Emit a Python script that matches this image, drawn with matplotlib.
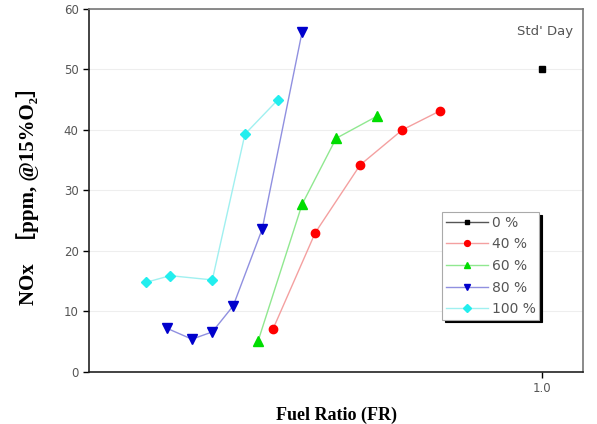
import matplotlib
matplotlib.use("Agg")
import matplotlib.pyplot as plt

# Data
x_0 = [1.0]
y_0 = [50.0]
x_40 = [0.406, 0.499, 0.598, 0.691, 0.773]
y_40 = [7.1, 23.0, 34.2, 40.0, 43.1]
x_60 = [0.373, 0.470, 0.545, 0.636]
y_60 = [5.1, 27.7, 38.6, 42.3]
x_80 = [0.172, 0.227, 0.272, 0.318, 0.382, 0.470]
y_80 = [7.2, 5.4, 6.6, 10.9, 23.6, 56.2]
x_100 = [0.126, 0.179, 0.272, 0.344, 0.417]
y_100 = [14.8, 15.9, 15.2, 39.3, 45.0]
labels = ["0 %", "40 %", "60 %", "80 %", "100 %"]
yticks = [0, 10, 20, 30, 40, 50, 60]
xticks = [1.0]

fig = plt.figure(figsize=(5.97, 4.24), dpi=100)
ax = fig.add_axes([0.149, 0.123, 0.828, 0.856])

series = [
    (x_0, y_0, "s", "black", "#555555", 4.5),
    (x_40, y_40, "o", "#ff0000", "#f4a0a0", 6),
    (x_60, y_60, "^", "#00dd00", "#90e890", 6.5),
    (x_80, y_80, "v", "#0000cc", "#9090e0", 7),
    (x_100, y_100, "D", "#22eeee", "#a0f0f0", 5.5),
]
for (xs, ys, m, mc, lc, ms), lab in zip(series, labels):
    ax.plot(xs, ys, color=lc, lw=1.0, marker=m, markersize=ms,
            markerfacecolor=mc, markeredgecolor=mc, label=lab)

ax.set_xlim(0.0, 1.09)
ax.set_ylim(0, 60)
ax.set_yticks(yticks)
ax.set_xticks(xticks)
ax.set_xticklabels(["1.0"])
ax.tick_params(axis="both", direction="out", labelsize=8.5, labelcolor="#555555",
               length=4, width=1)
ax.yaxis.grid(True, color="#eeeeee", lw=0.8)
ax.set_axisbelow(True)
for s in ["left", "bottom"]:
    ax.spines[s].set_color("#222222")
    ax.spines[s].set_linewidth(1.2)
for s in ["top", "right"]:
    ax.spines[s].set_color("#777777")
    ax.spines[s].set_linewidth(1.2)

ax.text(0.98, 0.955, "Std' Day", transform=ax.transAxes, ha="right", va="top",
        fontsize=9.5, color="#555555")

ax.set_ylabel("NOx  ［ppm, @15%O₂］", family=["Liberation Serif", "Noto Sans CJK SC"],
              fontweight="bold", fontsize=15, labelpad=18)
ax.set_xlabel("Fuel Ratio (FR)", family=["Liberation Serif"], fontweight="bold",
              fontsize=13, labelpad=8)

leg = ax.legend(loc="upper left", bbox_to_anchor=(0.715, 0.44), fontsize=10,
                frameon=True, fancybox=False, shadow={"color": "black", "alpha": 1.0},
                handlelength=3.0, handletextpad=0.3, borderpad=0.25, labelspacing=0.55,
                borderaxespad=0, markerscale=0.7)
leg.get_frame().set_edgecolor("#aaaaaa")
leg.get_frame().set_linewidth(0.8)
for t in leg.get_texts():
    t.set_color("#555555")

fig.savefig("out.png", dpi=100)
